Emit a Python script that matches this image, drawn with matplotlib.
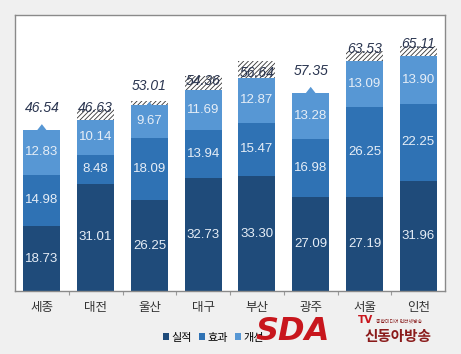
import matplotlib as mpl
import matplotlib.pyplot as plt
from matplotlib.patches import Polygon

mpl.rcParams['font.family'] = ['Liberation Sans', 'Noto Sans CJK KR', 'DejaVu Sans']
mpl.rcParams['hatch.linewidth'] = 0.6

# data
regions = ['세종', '대전', '울산', '대구', '부산', '광주', '서울', '인천']
actual = [18.73, 31.01, 26.25, 32.73, 33.30, 27.09, 27.19, 31.96]
effect = [14.98, 8.48, 18.09, 13.94, 15.47, 16.98, 26.25, 22.25]
improve = [12.83, 10.14, 9.67, 11.69, 12.87, 13.28, 13.09, 13.90]
deduct = [0, 3, 1, 4, 5, 0, 3, 3]
totals = [46.54, 46.63, 53.01, 54.36, 56.64, 57.35, 63.53, 65.11]

c_dark = '#1f4b7a'
c_mid = '#2f72b4'
c_light = '#5797d4'

fig = plt.figure(figsize=(4.61, 3.54), dpi=100, facecolor='#f0f0f0')
ax = fig.add_axes([0.0325, 0.178, 0.933, 0.78])
ax.set_facecolor('white')

x = range(len(regions))
w = 0.69
b1 = [a for a in actual]
b2 = [a + e for a, e in zip(actual, effect)]
b3 = [a + e + i for a, e, i in zip(actual, effect, improve)]

ax.bar(x, actual, w, color=c_dark, label='실적', zorder=2)
ax.bar(x, effect, w, bottom=b1, color=c_mid, label='효과', zorder=2)
ax.bar(x, improve, w, bottom=b2, color=c_light, label='개선', zorder=2)
ax.bar(x, deduct, w, bottom=b3, facecolor='white', edgecolor='#333333',
       hatch='///////', linewidth=0, zorder=2)

for i in x:
    for val, bot in ((actual[i], 0), (effect[i], b1[i]), (improve[i], b2[i])):
        ax.text(i, bot + val / 2, f'{val:.2f}', ha='center', va='center',
                color='#e6eef7', fontsize=9.5, zorder=4)
    # callout pointer
    t = totals[i]
    ax.add_patch(Polygon([[i - 0.09, t], [i + 0.09, t], [i, t + 1.8]],
                         closed=True, color=c_light, lw=0, zorder=3))
    ax.annotate(f'{t:.2f}', (i, t), xytext=(0, 16), textcoords='offset points',
                ha='center', va='center', fontsize=10, style='italic',
                color='#2a3550', zorder=5)

ax.set_xlim(-0.5, 7.5)
ax.set_ylim(0, 80)
ax.set_yticks([])
ax.set_xticks([i + 0.5 for i in range(7)])
ax.set_xticklabels([])
ax.set_xticks(list(x), minor=True)
ax.set_xticklabels(regions, minor=True, fontsize=9, color='#333333')
ax.tick_params(axis='x', which='major', length=3, color='#999999')
ax.tick_params(axis='x', which='minor', length=0, pad=8)
for s in ax.spines.values():
    s.set_color('#8a8a8a')
    s.set_linewidth(1)

ax.legend(loc='upper left', bbox_to_anchor=(0.32, -0.115), ncol=3, frameon=False,
          fontsize=8, handlelength=0.6, handleheight=0.6, handletextpad=0.2,
          columnspacing=0.6)

# watermark logo
fig.text(0.555, 0.04, 'SDA', fontsize=23, fontweight='bold', style='italic',
         color='#c8161d', family='DejaVu Sans')
fig.text(0.777, 0.088, 'TV', fontsize=7.5, fontweight='bold', color='#c8161d',
         family='DejaVu Sans')
fig.text(0.815, 0.088, '종합미디어 인터넷방송', fontsize=3.5, color='#8a2020',
         family=['Noto Sans CJK KR'])
fig.text(0.79, 0.038, '신동아방송', fontsize=10.5, fontweight='bold', color='#8a1a1a',
         family=['Noto Sans CJK KR'])

fig.savefig('out.png', dpi=100, facecolor=fig.get_facecolor())
